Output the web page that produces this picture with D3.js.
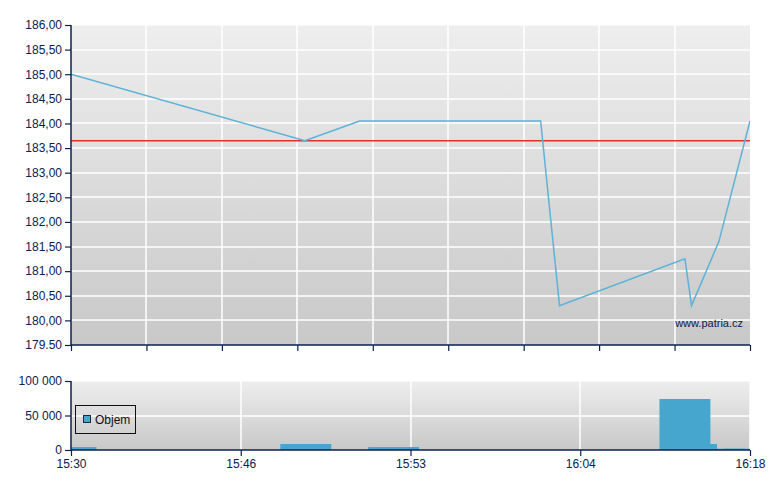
<!DOCTYPE html>
<html><head><meta charset="utf-8">
<script src="https://cdn.jsdelivr.net/npm/d3@7"></script>
<style>body{margin:0;background:#fff}svg{display:block}text{font-family:"Liberation Sans",Arial,sans-serif}</style>
</head><body>
<svg id="c" width="780" height="490"></svg>
<script>
// ---- data ----
// x positions are trade-slot positions along the (compressed) time axis, 0..36
const pricePos   = [0, 12.4, 15.3, 17.1, 24.9, 25.9, 32.55, 32.9, 34.35, 36];
const priceVals  = [185.00, 183.65, 184.05, 184.05, 184.05, 180.30, 181.25, 180.30, 181.60, 184.05];
const refPrice   = 183.65;
const volPos     = [0, 12.45, 17.1, 32.55, 32.9, 34.35, 36];
const volVals    = [4300, 8700, 4300, 73900, 8700, 1900, 1900];
const priceTicks = [179.5, 180, 180.5, 181, 181.5, 182, 182.5, 183, 183.5, 184, 184.5, 185, 185.5, 186];
const priceTickLabels = ["179.50","180,00","180,50","181,00","181,50","182,00","182,50","183,00","183,50","184,00","184,50","185,00","185,50","186,00"];
const volTicks   = [0, 50000, 100000];
const volTickLabels = ["0","50 000","100 000"];
const timePos    = [0, 9, 18, 27, 36];
const timeLabels = ["15:30","15:46","15:53","16:04","16:18"];
const mainGridPos = [0,4,8,12,16,20,24,28,32,36];
const legendLabel = "Objem";
const watermark = "www.patria.cz";

// ---- layout ----
const svg = d3.select("#c");
const L = 71, R = 750;
const navy = "#0b2150";
const x = d3.scaleLinear().domain([0,36]).range([L,R]);
const y = d3.scaleLinear().domain([179.5,186]).range([345,25]);
const yv = d3.scaleLinear().domain([0,100000]).range([450,381]);

const defs = svg.append("defs");
const g1 = defs.append("linearGradient").attr("id","bg").attr("x1",0).attr("y1",0).attr("x2",0).attr("y2",1);
g1.append("stop").attr("offset","0%").attr("stop-color","#eeeeee");
g1.append("stop").attr("offset","100%").attr("stop-color","#c8c8c8");
defs.append("clipPath").attr("id","clipM").append("rect").attr("x",L).attr("y",y(186)).attr("width",R-L).attr("height",y(179.5)-y(186));
defs.append("clipPath").attr("id","clipV").append("rect").attr("x",L).attr("y",yv(100000)).attr("width",R-L).attr("height",yv(0)-yv(100000));

// ---- main price chart ----
svg.append("rect").attr("x",L).attr("y",y(186)).attr("width",R-L).attr("height",y(179.5)-y(186)).attr("fill","url(#bg)");
svg.append("line").attr("x1",L).attr("x2",R).attr("y1",y(186)+0.5).attr("y2",y(186)+0.5).attr("stroke","#f6f6f6");
const gm = svg.append("g");
gm.selectAll(".hg").data(priceTicks.slice(1,-1)).join("line")
  .attr("x1",L).attr("x2",R).attr("y1",d=>Math.round(y(d))).attr("y2",d=>Math.round(y(d)))
  .attr("stroke","#fff").attr("stroke-width",1.5);
gm.selectAll(".vg").data(mainGridPos.slice(1,-1)).join("line")
  .attr("x1",d=>Math.round(x(d))).attr("x2",d=>Math.round(x(d))).attr("y1",y(186)).attr("y2",y(179.5))
  .attr("stroke","#fff").attr("stroke-width",1.5);

// reference line
svg.append("line").attr("x1",L).attr("x2",R).attr("y1",y(refPrice)).attr("y2",y(refPrice))
  .attr("stroke","#e0302c").attr("stroke-width",1.5);

// price line
const pts = pricePos.map((p,i)=>[p,priceVals[i]]);
svg.append("path").datum(pts).attr("clip-path","url(#clipM)")
  .attr("d", d3.line().x(d=>x(d[0])).y(d=>y(d[1])))
  .attr("fill","none").attr("stroke","#5cb2d8").attr("stroke-width",1.5);

// watermark
svg.append("text").attr("x",743).attr("y",327).attr("text-anchor","end")
  .attr("font-size",11).attr("fill",navy).text(watermark);

// axes main
const yAxis = d3.axisLeft(y).tickValues(priceTicks).tickFormat((d,i)=>priceTickLabels[i]).tickSize(6).tickPadding(3);
const ga = svg.append("g").attr("transform",`translate(${L},0)`).call(yAxis);
const xAxisM = d3.axisBottom(x).tickValues(mainGridPos).tickFormat("").tickSize(6);
const gb = svg.append("g").attr("transform",`translate(0,${y(179.5)})`).call(xAxisM);
[ga,gb].forEach(g=>{
  g.select(".domain").attr("stroke",navy).attr("stroke-width",1.5);
  g.selectAll(".tick line").attr("stroke",navy).attr("stroke-width",1.2);
  g.selectAll("text").attr("fill",navy).attr("font-size",12).attr("font-family","'Liberation Sans',Arial,sans-serif");
});
gb.select(".domain").attr("d",`M${L},0H${R}`);
ga.select(".domain").attr("d",`M0,${y(186)}V${y(179.5)}`);

// ---- volume chart ----
svg.append("rect").attr("x",L).attr("y",yv(100000)).attr("width",R-L).attr("height",yv(0)-yv(100000)).attr("fill","url(#bg)");
svg.append("line").attr("x1",L).attr("x2",R).attr("y1",yv(100000)+0.5).attr("y2",yv(100000)+0.5).attr("stroke","#f6f6f6");
svg.append("line").attr("x1",R-0.5).attr("x2",R-0.5).attr("y1",yv(100000)).attr("y2",yv(0)).attr("stroke","#f6f6f6");
svg.append("line").attr("x1",L).attr("x2",R).attr("y1",Math.round(yv(50000))).attr("y2",Math.round(yv(50000))).attr("stroke","#fff").attr("stroke-width",1.5);
svg.selectAll(".vvg").data(timePos.slice(1,-1)).join("line")
  .attr("x1",d=>Math.round(x(d))).attr("x2",d=>Math.round(x(d))).attr("y1",yv(100000)).attr("y2",yv(0))
  .attr("stroke","#fff").attr("stroke-width",1.5);

const bw = x(2.7)-x(0);
svg.append("g").attr("clip-path","url(#clipV)").selectAll("rect").data(volPos.map((p,i)=>[p,volVals[i]])).join("rect")
  .attr("x",d=>x(d[0])-bw/2).attr("width",bw)
  .attr("y",d=>yv(d[1])).attr("height",d=>yv(0)-yv(d[1]))
  .attr("fill","#46a6ce");

const yvAxis = d3.axisLeft(yv).tickValues(volTicks).tickFormat((d,i)=>volTickLabels[i]).tickSize(6).tickPadding(3);
const gc = svg.append("g").attr("transform",`translate(${L},0)`).call(yvAxis);
const xvAxis = d3.axisBottom(x).tickValues(timePos).tickFormat((d,i)=>timeLabels[i]).tickSize(6).tickPadding(3);
const gd = svg.append("g").attr("transform",`translate(0,${yv(0)})`).call(xvAxis);
[gc,gd].forEach(g=>{
  g.select(".domain").attr("stroke",navy).attr("stroke-width",1.5);
  g.selectAll(".tick line").attr("stroke",navy).attr("stroke-width",1.2);
  g.selectAll("text").attr("fill",navy).attr("font-size",12).attr("font-family","'Liberation Sans',Arial,sans-serif");
});
gc.selectAll(".tick text").attr("dy","0.3em");
gd.select(".domain").attr("d",`M${L},0H${R}`);
gc.select(".domain").attr("d",`M0,${yv(100000)}V${yv(0)}`);

// legend
const lg = svg.append("g");
lg.append("rect").attr("x",75.5).attr("y",405.5).attr("width",60).attr("height",28).attr("fill","none").attr("stroke","#111").attr("stroke-width",1);
lg.append("rect").attr("x",83.5).attr("y",415.5).attr("width",7).attr("height",7).attr("fill","#46a6ce").attr("stroke","#1a2a3a");
lg.append("text").attr("x",95).attr("y",424).attr("font-size",12).attr("fill","#111").text(legendLabel);
</script>
</body></html>
